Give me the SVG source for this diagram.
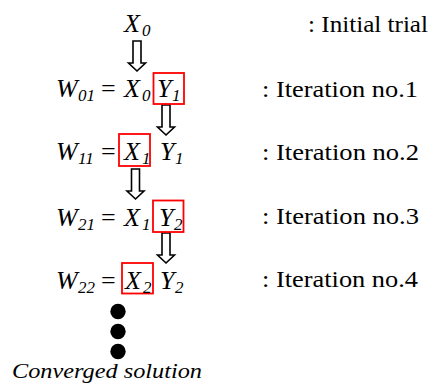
<svg xmlns="http://www.w3.org/2000/svg" width="438" height="392" viewBox="0 0 438 392">
<style>
text{font-family:'Liberation Serif','Times New Roman',Times,serif;fill:#000}
.m{font-style:italic;font-size:26px}
.s{font-style:italic;font-size:17px}
.eq{font-size:26px}
.lb{font-size:23px}
.box{fill:none;stroke:#f00;stroke-width:1.8}
.arr{fill:#fff;stroke:#000;stroke-width:1.6;stroke-linejoin:miter}
</style>
<defs>
<path id="arrow" class="arr" d="M-4,0 H4 V22 H8.5 L0,30 L-8.5,22 H-4 Z"/>
</defs>
<rect width="438" height="392" fill="#fff"/>
<g id="connectors">
<use href="#arrow" transform="translate(137,41)"/>
<use href="#arrow" transform="translate(166,105)"/>
<use href="#arrow" transform="translate(135.5,169)"/>
<use href="#arrow" transform="translate(166,233)"/>
</g>
<g id="initial">
<text class="m" x="124" y="32">X</text><text class="s" x="142" y="36">0</text>
<text class="lb" x="308" y="32" textLength="120" lengthAdjust="spacingAndGlyphs">: Initial trial</text>
</g>
<g id="iter1">
<text class="m" x="56" y="97">W</text><text class="s" x="78" y="101">01</text>
<text class="eq" x="101" y="97">=</text>
<text class="m" x="124" y="97">X</text><text class="s" x="142" y="101">0</text>
<rect class="box" x="153.5" y="73" width="30.5" height="31"/>
<text class="m" x="157" y="97">Y</text><text class="s" x="172" y="101">1</text>
<text class="lb" x="262" y="97" textLength="156" lengthAdjust="spacingAndGlyphs">: Iteration no.1</text>
</g>
<g id="iter2">
<text class="m" x="56" y="160">W</text><text class="s" x="78" y="164">11</text>
<text class="eq" x="101" y="160">=</text>
<rect class="box" x="119" y="134" width="31" height="32"/>
<text class="m" x="124" y="160">X</text><text class="s" x="142" y="164">1</text>
<text class="m" x="160" y="160">Y</text><text class="s" x="175" y="164">1</text>
<text class="lb" x="262" y="160" textLength="157" lengthAdjust="spacingAndGlyphs">: Iteration no.2</text>
</g>
<g id="iter3">
<text class="m" x="56" y="226">W</text><text class="s" x="78" y="230">21</text>
<text class="eq" x="101" y="226">=</text>
<text class="m" x="124" y="226">X</text><text class="s" x="142" y="230">1</text>
<rect class="box" x="153" y="200.5" width="30.5" height="31.5"/>
<text class="m" x="159" y="226">Y</text><text class="s" x="174" y="230">2</text>
<text class="lb" x="262" y="224" textLength="157" lengthAdjust="spacingAndGlyphs">: Iteration no.3</text>
</g>
<g id="iter4">
<text class="m" x="56" y="289">W</text><text class="s" x="78" y="293">22</text>
<text class="eq" x="101" y="289">=</text>
<rect class="box" x="122" y="263" width="31" height="30.5"/>
<text class="m" x="125" y="289">X</text><text class="s" x="143" y="293">2</text>
<text class="m" x="160" y="289">Y</text><text class="s" x="175" y="293">2</text>
<text class="lb" x="262" y="287" textLength="156" lengthAdjust="spacingAndGlyphs">: Iteration no.4</text>
</g>
<g id="converged">
<circle cx="118" cy="311.5" r="7.7"/>
<circle cx="118" cy="331.5" r="7.7"/>
<circle cx="118" cy="351.5" r="7.7"/>
<text class="m" x="12" y="378" style="font-size:22px" textLength="190" lengthAdjust="spacingAndGlyphs">Converged solution</text>
</g>
</svg>
